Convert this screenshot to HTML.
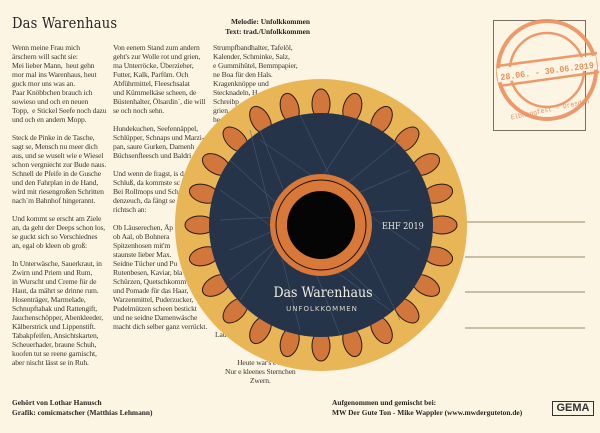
<!DOCTYPE html>
<html><head><meta charset="utf-8"><style>
*{margin:0;padding:0}
body{width:600px;height:433px;background:#fdf5e4;position:relative;overflow:hidden;font-family:"Liberation Serif",serif;color:#3a3530}
.col{position:absolute;top:43px;font-size:7.6px;line-height:9px;white-space:nowrap;letter-spacing:-0.15px}
.col p{margin-bottom:9px}
.b{font-weight:bold;font-size:7.4px;line-height:9.5px;position:absolute;color:#2a2520;white-space:nowrap}
</style></head><body>
<div style="position:absolute;left:12px;top:16px;font-family:'DejaVu Serif Condensed','DejaVu Serif',serif;font-size:14.5px;color:#2a2520;letter-spacing:0.2px">Das Warenhaus</div>
<div class="b" style="right:290px;top:17px;text-align:right">Melodie: Unfolkkommen<br>Text: trad./Unfolkkommen</div>

<div class="col" style="left:12px"><p>Wenn meine Frau mich<br>ärschern will sacht sie:<br>Mei lieber Mann,&nbsp; heut gehn<br>mor mal ins Warenhaus, heut<br>guck mor uns was an.<br>Paar Knöbbchen brauch ich<br>sowieso und och en neuen<br>Topp,&nbsp; e Stickel Seefe noch dazu<br>und och en andern Mopp.</p><p>Steck de Pinke in de Tasche,<br>sagt se, Mensch nu meer dich<br>aus, und se wuselt wie e Wiesel<br>schon vergniecht zur Bude naus.<br>Schnell de Pfeife in de Gusche<br>und den Fahrplan in de Hand,<br>wird mit riesengroßen Schritten<br>nach´m Bahnhof hingerannt.</p><p>Und kommt se erscht am Ziele<br>an, da geht der Deeps schon los,<br>se guckt sich so Verschiednes<br>an, egal ob kleen ob groß:</p><p>In Unterwäsche, Sauerkraut, in<br>Zwirn und Priem und Rum,<br>in Wurscht und Creme für de<br>Haut, da mährt se drinne rum.<br>Hosenträger, Marmelade,<br>Schnupftabak und Rattengift,<br>Jauchenschöpper, Abenkleeder,<br>Kälberstrick und Lippenstift.<br>Tabakpfeifen, Ansichtskarten,<br>Scheuerhader, braune Schuh,<br>koofen tut se reene garnischt,<br>aber nischt lässt se in Ruh.</p></div>

<div class="col" style="left:113px"><p>Von eenem Stand zum andern<br>geht's zur Wolle rot und grien,<br>ma Unterröcke, Überzieher,<br>Futter, Kalk, Parfüm. Och<br>Abführmittel, Fleeschsalat<br>und Kümmelkäse scheen, de<br>Büstenhalter, Ölsardin´, die will<br>se och noch sehn.</p><p>Hundekuchen, Seefennäppel,<br>Schlüpper, Schnaps und Marzi-<br>pan, saure Gurken, Damenh<br>Büchsenfleesch und Baldri</p><p>Und wenn de fragst, is d<br>Schluß, da kommste sc<br>Bei Rollmops und Sch<br>denzeuch, da fängt se<br>richtsch an:</p><p>Ob Läuserechen, Äp<br>ob Aal, ob Bohnera<br>Spitzenhosen mit'm<br>staunste lieber Max.<br>Seidne Tücher und Pu<br>Rutenbesen, Kaviar, bla<br>Schürzen, Quetschkomm<br>und Pomade für das Haar,<br>Warzenmittel, Puderzucker,<br>Pudelmützen scheen bestickt<br>und ne seidne Damenwäsche<br>macht dich selber ganz verrückt.</p></div>

<div class="col" style="left:213px;top:43px">Strumpfbandhalter, Tafelöl,<br>Kalender, Schminke, Salz,<br>e Gummihütel, Bemmpapier,<br>ne Boa für den Hals.<br>Kragenknöppe und<br>Stecknadeln, H<br>Schreibp<br>grien<br>he</div>
<div class="col" style="left:215px;top:330px">Lau</div>
<div class="col" style="left:225px;top:358px;text-align:center">Heute war's e bi<br>Nur e kleenes Sternchen<br>Zwern.</div>

<div style="position:absolute;left:465px;top:221px;width:120px;height:1.5px;background:#c9bda5"></div>
<div style="position:absolute;left:465px;top:256px;width:120px;height:1.5px;background:#c9bda5"></div>
<div style="position:absolute;left:465px;top:291px;width:120px;height:1.5px;background:#c9bda5"></div>
<div style="position:absolute;left:465px;top:327px;width:120px;height:1.5px;background:#c9bda5"></div>

<svg width="600" height="433" style="position:absolute;left:0;top:0">
<defs><ellipse id="t" cx="321" cy="104" rx="9" ry="15" fill="#d2773c" stroke="#2a1a10" stroke-width="1"/></defs>
<rect x="493.5" y="20.5" width="92" height="110" fill="none" stroke="#7a6f60" stroke-width="1"/>
<g stroke="#eb9060" fill="none" opacity="0.9">
<circle cx="547" cy="70" r="49" stroke-width="4"/>
<circle cx="547" cy="70" r="37" stroke-width="2.5"/>
<path d="M497 66 L597 53 M499 86 L599 72" stroke-width="2.5"/>
</g>
<rect x="497" y="62" width="100" height="14" fill="#fdf5e4" transform="rotate(-7.5 547 70)"/>
<text x="500" y="74" textLength="94" lengthAdjust="spacingAndGlyphs" font-family="Liberation Mono,monospace" font-size="9" font-weight="bold" fill="#eb9060" transform="rotate(-7.5 547 70)">28.06. - 30.06.2019</text>
<text x="510" y="112" textLength="80" lengthAdjust="spacingAndGlyphs" font-family="Liberation Mono,monospace" font-size="7" fill="#eb9060" transform="rotate(-12 547 110)">Elbhangfest - Dresden</text>

<circle cx="321" cy="225" r="146" fill="#e8b657"/>
<g>
<use href="#t"/><use href="#t" transform="rotate(15 321 225)"/><use href="#t" transform="rotate(30 321 225)"/><use href="#t" transform="rotate(45 321 225)"/><use href="#t" transform="rotate(60 321 225)"/><use href="#t" transform="rotate(75 321 225)"/><use href="#t" transform="rotate(90 321 225)"/><use href="#t" transform="rotate(105 321 225)"/><use href="#t" transform="rotate(120 321 225)"/><use href="#t" transform="rotate(135 321 225)"/><use href="#t" transform="rotate(150 321 225)"/><use href="#t" transform="rotate(165 321 225)"/><use href="#t" transform="rotate(180 321 225)"/><use href="#t" transform="rotate(195 321 225)"/><use href="#t" transform="rotate(210 321 225)"/><use href="#t" transform="rotate(225 321 225)"/><use href="#t" transform="rotate(240 321 225)"/><use href="#t" transform="rotate(255 321 225)"/><use href="#t" transform="rotate(270 321 225)"/><use href="#t" transform="rotate(285 321 225)"/><use href="#t" transform="rotate(300 321 225)"/><use href="#t" transform="rotate(315 321 225)"/><use href="#t" transform="rotate(330 321 225)"/><use href="#t" transform="rotate(345 321 225)"/>
</g>
<circle cx="321" cy="225" r="112" fill="#26344a"/>
<g stroke="#4d6078" stroke-width="0.7" fill="none" opacity="0.7">
<path d="M230 160 L380 300 M250 130 L300 330 M360 120 L240 300 M410 170 L230 250 M420 250 L260 140 M300 115 L400 320 M220 220 L410 210 M340 335 L260 130 M230 280 L400 140 M390 310 L220 190"/>
</g>
<circle cx="321" cy="225" r="51" fill="#d8793a"/>
<circle cx="321" cy="225" r="45" fill="none" stroke="#1a1008" stroke-width="1"/>
<circle cx="321" cy="225" r="34" fill="#050505"/>
<text x="382" y="229" font-family="DejaVu Serif Condensed,DejaVu Serif,serif" font-size="9" fill="#e8e4dc">EHF 2019</text>
<text x="323" y="297" text-anchor="middle" font-family="DejaVu Serif Condensed,DejaVu Serif,serif" font-size="14" fill="#f0ece4">Das Warenhaus</text>
<text x="322" y="311" text-anchor="middle" font-family="DejaVu Sans,sans-serif" font-size="7" letter-spacing="1" fill="#d8d4cc">UNFOLKKOMMEN</text>
</svg>

<div class="b" style="left:12px;top:398px">Gehört von Lothar Hanusch<br>Grafik: comicmatscher (Matthias Lehmann)</div>
<div class="b" style="left:332px;top:398px">Aufgenommen und gemischt bei:<br>MW Der Gute Ton - Mike Wappler (www.mwderguteton.de)</div>
<div style="position:absolute;left:552px;top:401px;width:40px;height:13px;border:1px solid #333;font-family:'Liberation Sans',sans-serif;font-weight:bold;font-size:11px;line-height:13px;text-align:center;color:#333">GEMA</div>
</body></html>
